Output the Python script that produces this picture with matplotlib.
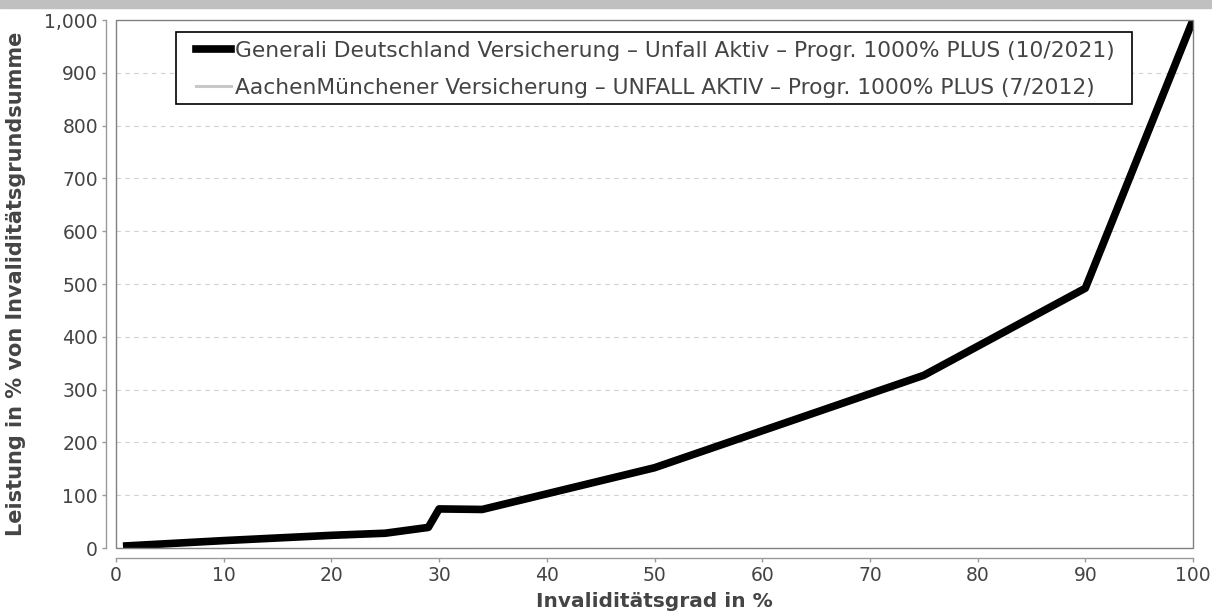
# Invaliditaetsprogression, Generali vs AachenMuenchener
import matplotlib
matplotlib.use('Agg')
import matplotlib.pyplot as plt
from matplotlib.patches import Rectangle
from matplotlib.ticker import FuncFormatter

# Data
grad = [1, 10, 20, 25, 29, 30, 34, 50, 75, 90, 100]
generali = [4, 14, 24, 28, 39, 74, 73, 152, 327, 492, 1000]
aachen = [4, 14, 24, 28, 39, 74, 73, 152, 327, 492, 1000]

label_generali = 'Generali Deutschland Versicherung – Unfall Aktiv – Progr. 1000% PLUS (10/2021)'
label_aachen = 'AachenMünchener Versicherung – UNFALL AKTIV – Progr. 1000% PLUS (7/2012)'

x_ticks = list(range(0, 101, 10))
y_ticks = list(range(0, 1001, 100))

txt = '#444444'
axis_grey = '#9a9a9a'

fig = plt.figure(figsize=(12.12, 6.12), dpi=100)

# grey band at the top of the image
fig.patches.append(Rectangle((0, 1 - 8 / 612), 1, 8 / 612, transform=fig.transFigure,
                             color='#c0c0c0', zorder=0))

ax = fig.add_axes([116 / 1212, 1 - 548 / 612, 1077 / 1212, 528 / 612])

ax.plot(grad, aachen, color='#c8c8c8', lw=2.2, label=label_aachen, zorder=2)
ax.plot(grad, generali, color='black', lw=5.5, label=label_generali, zorder=3)

ax.set_xlim(0, 100)
ax.set_ylim(0, 1000)
ax.set_xticks(x_ticks)
ax.set_yticks(y_ticks)
ax.yaxis.set_major_formatter(FuncFormatter(lambda v, p: f'{int(v):,}'))

# horizontal dashed grid only
ax.grid(axis='y', color='#d0d0d0', ls=(0, (4, 4)), lw=0.8)
ax.set_axisbelow(True)

# JFreeChart-like axis lines, offset from the plot outline
for s in ['top', 'right']:
    ax.spines[s].set_visible(False)
for s in ['left', 'bottom']:
    ax.spines[s].set_position(('outward', 7))
    ax.spines[s].set_color(axis_grey)
    ax.spines[s].set_linewidth(1.0)
ax.add_patch(Rectangle((0, 0), 1, 1, transform=ax.transAxes, fill=False,
                       edgecolor='#808080', lw=1.0, clip_on=False, zorder=4))

ax.tick_params(axis='both', colors=axis_grey, labelcolor=txt, labelsize=13.5,
               length=3, width=1, pad=3)

ax.set_xlabel('Invaliditätsgrad in %', fontsize=14.5, fontweight='bold', color=txt)
ax.set_ylabel('Leistung in % von Invaliditätsgrundsumme', fontsize=15, fontweight='bold',
              color=txt)
ax.xaxis.set_label_coords(0.5, -0.102)
ax.xaxis.label.set_verticalalignment('center')
ax.yaxis.set_label_coords(-0.0929, 0.5)
ax.yaxis.label.set_verticalalignment('center')

# legend: Generali first; box drawn separately for JFreeChart-like padding
handles, labels = ax.get_legend_handles_labels()
leg = ax.legend(handles[::-1], labels[::-1], loc='upper left',
                bbox_to_anchor=(0.0743, 0.961), fontsize=15.7, frameon=False,
                handlelength=1.6, handletextpad=0.2, borderpad=0,
                labelspacing=0.78, borderaxespad=0)
for t in leg.get_texts():
    t.set_color(txt)
ax.add_patch(Rectangle((0.0557, 0.8409), 0.8877, 0.1364, transform=ax.transAxes,
                       facecolor='white', edgecolor='black', lw=1.2, zorder=4.5))
leg.set_zorder(5)

fig.savefig('out.png', dpi=100)
